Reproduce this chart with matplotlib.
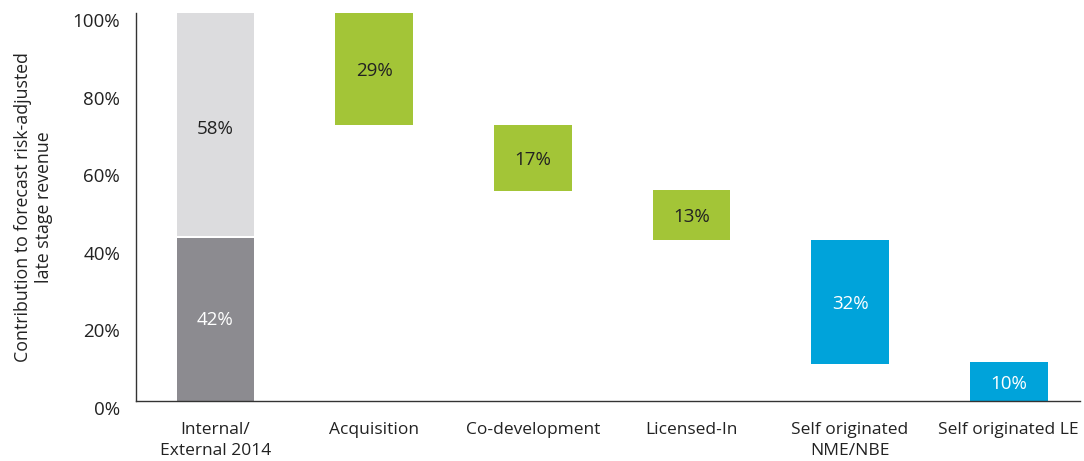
import numpy as np
import matplotlib.pyplot as plt
from matplotlib.transforms import ScaledTranslation

plt.rcParams['font.family'] = ['Open Sans', 'DejaVu Sans']

categories = ['Internal/\nExternal 2014', 'Acquisition', 'Co-development', 'Licensed-In',
              'Self originated\nNME/NBE', 'Self originated LE']
# stacked first bar
internal = 42
external = 58
# waterfall bars
values = [29, 17, 13, 32, 10]
bottoms = [71, 54, 41.5, 9.5, 0]
colors = ['#A3C537', '#A3C537', '#A3C537', '#00A3DA', '#00A3DA']
text_colors = ['#222222', '#222222', '#222222', 'white', 'white']

fig = plt.figure(figsize=(10.84, 4.61), dpi=100)
ax = fig.add_axes([0.1255, 0.130, 0.871, 0.842])

x = np.arange(len(categories))
w = 0.49
fs = 13.5

ax.bar(x[0], internal, width=w, color='#8C8B90')
ax.bar(x[0], external - 0.6, bottom=internal + 0.6, width=w, color='#DCDCDE')
ax.text(x[0], internal / 2, '42%', ha='center', va='center', color='white', fontsize=fs)
ax.text(x[0], internal + external / 2 - 1, '58%', ha='center', va='center', color='#222222', fontsize=fs)

for i, (v, b, c, tc) in enumerate(zip(values, bottoms, colors, text_colors)):
    ax.bar(x[i + 1], v, bottom=b, width=w, color=c)
    ax.text(x[i + 1], b + v / 2 - 0.5, f'{v}%', ha='center', va='center', color=tc, fontsize=fs)

ax.set_xlim(-0.5, 5.45)
ax.set_ylim(0, 100)
ax.set_yticks([0, 20, 40, 60, 80, 100])
ax.set_yticklabels([f'{t}%' for t in [0, 20, 40, 60, 80, 100]])
ax.set_xticks(x)
ax.set_xticklabels(categories, linespacing=1.45)
ax.tick_params(axis='both', length=0, colors='#222222')
ax.tick_params(axis='y', pad=11.5, labelsize=13.5)
ax.tick_params(axis='x', pad=15, labelsize=12.5)
offset = ScaledTranslation(0, -0.07, fig.dpi_scale_trans)
for lab in ax.get_yticklabels():
    lab.set_transform(lab.get_transform() + offset)
for s in ['top', 'right']:
    ax.spines[s].set_visible(False)
for s in ['left', 'bottom']:
    ax.spines[s].set_color('#333333')
    ax.spines[s].set_linewidth(1.0)
ax.set_ylabel('Contribution to forecast risk-adjusted\nlate stage revenue', fontsize=12.8,
              color='#222222', labelpad=14)

fig.savefig('out.png', dpi=100)
